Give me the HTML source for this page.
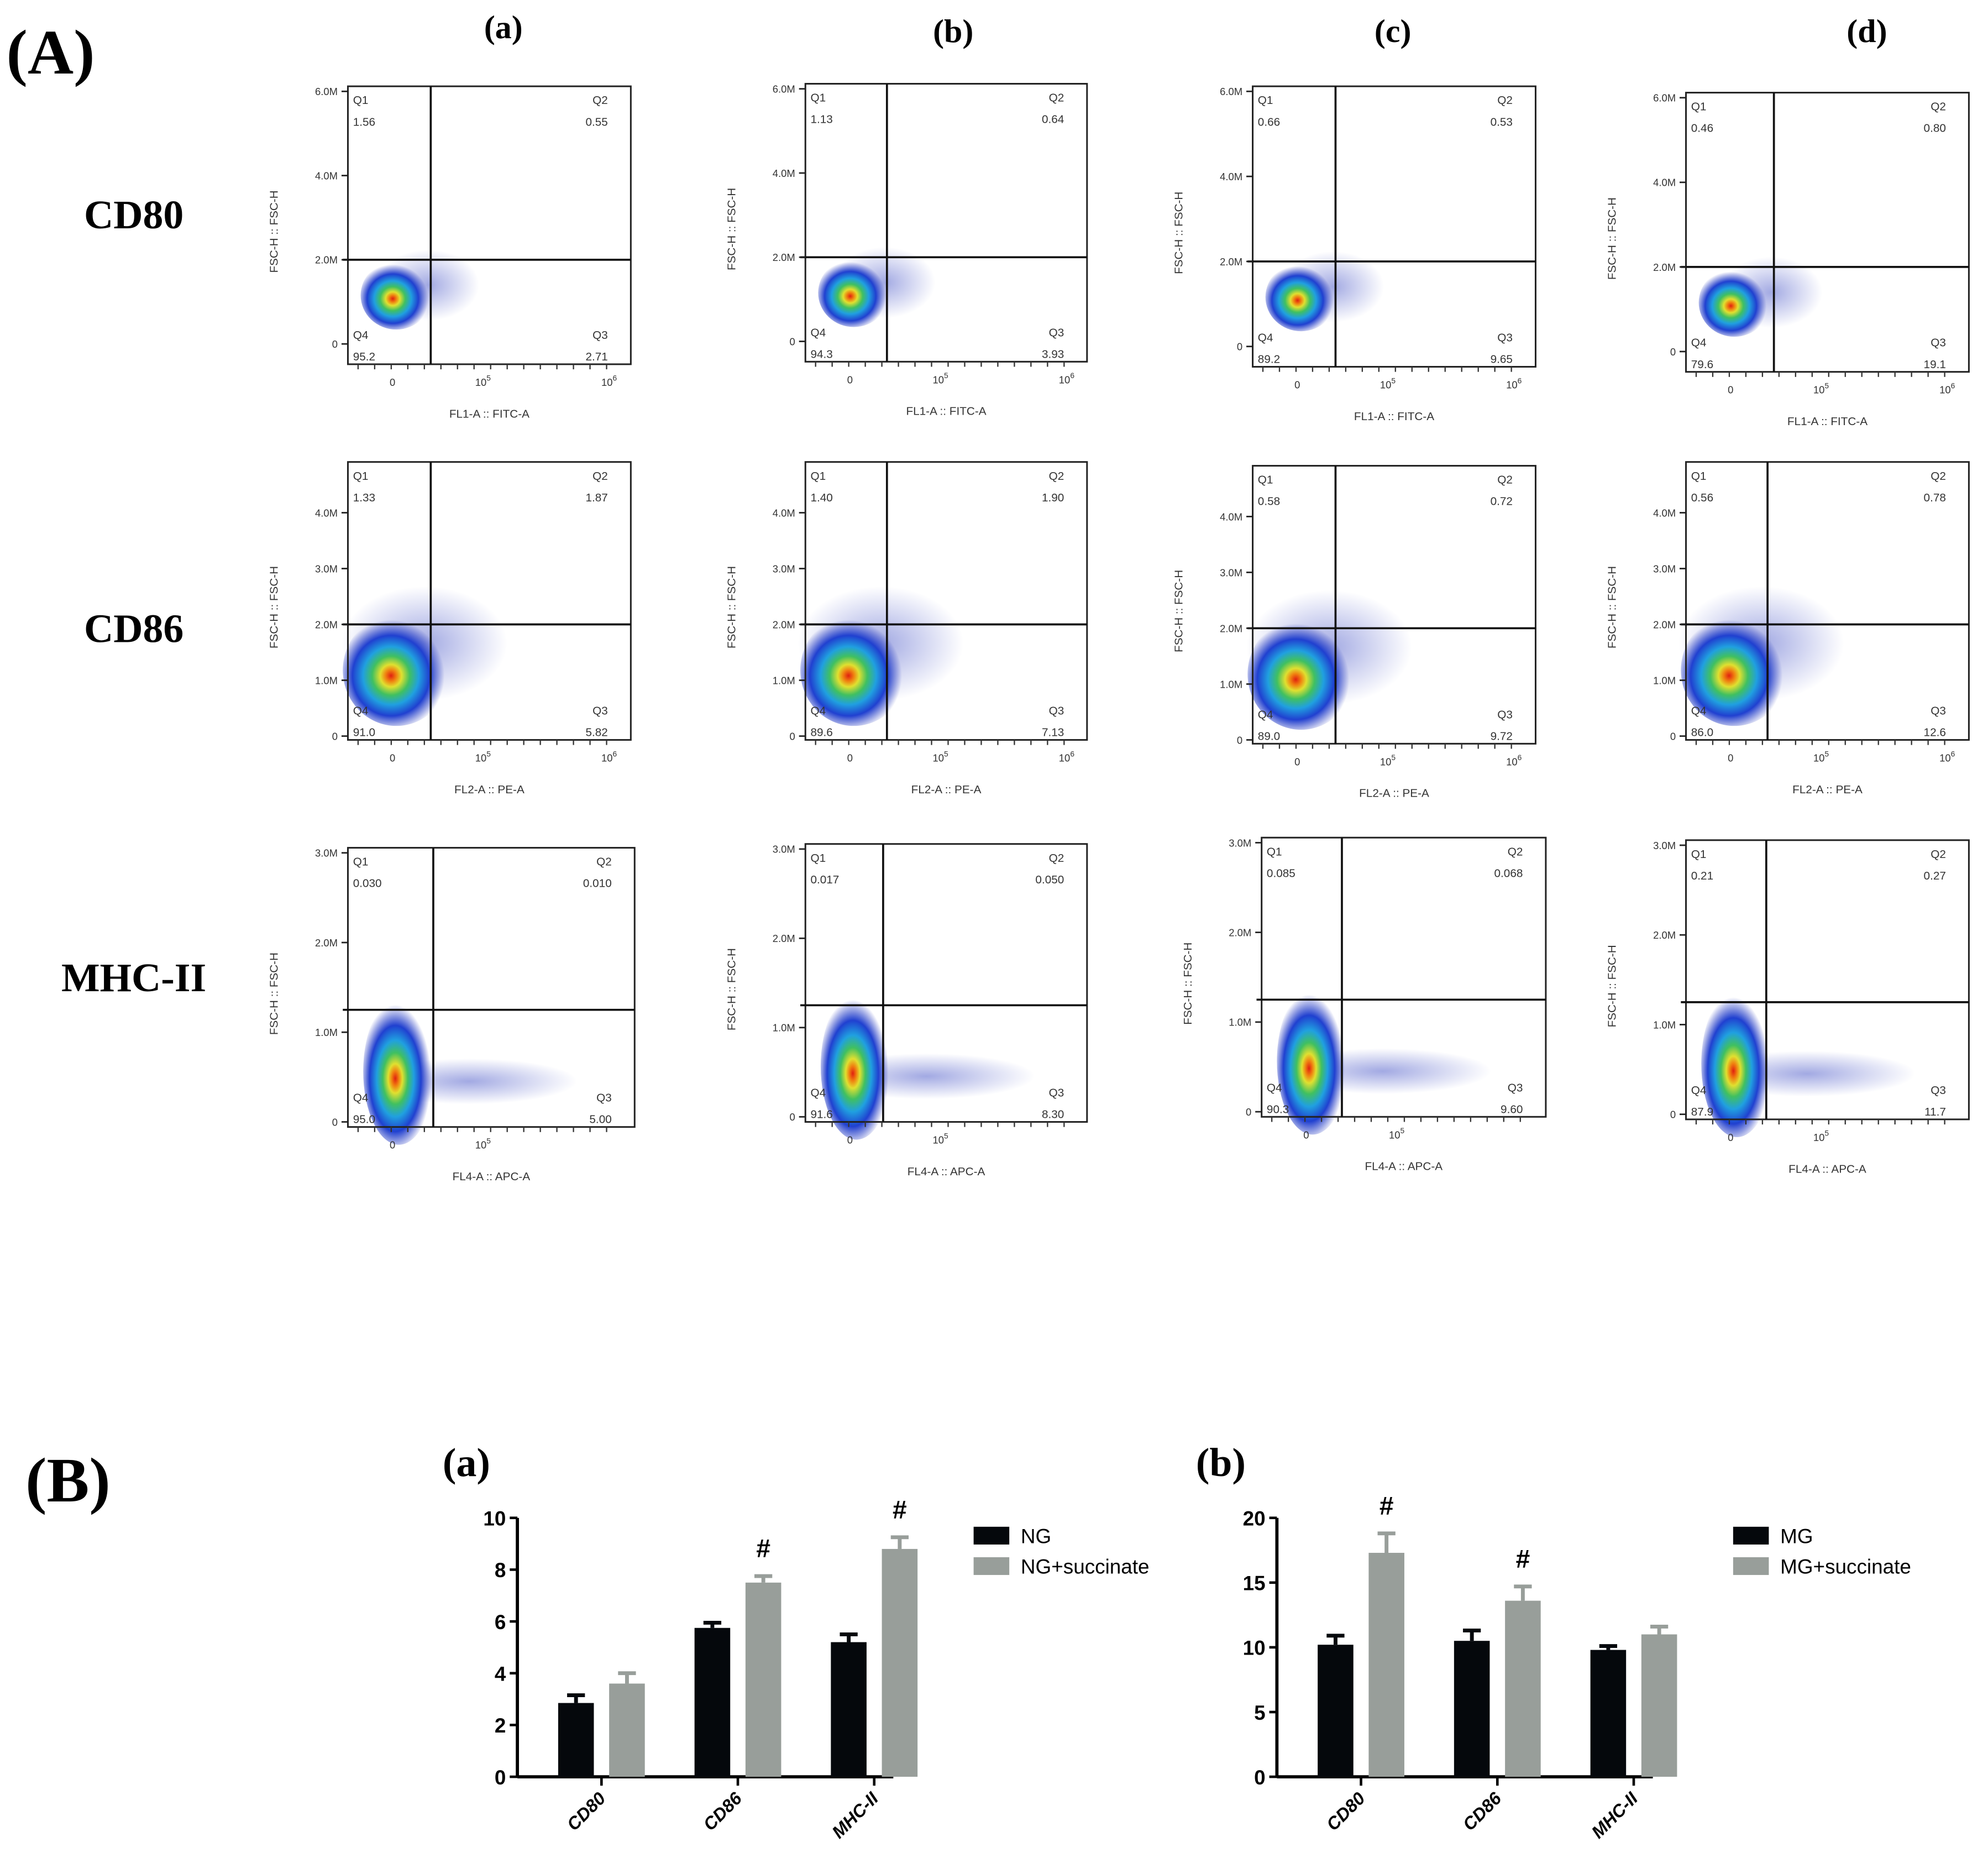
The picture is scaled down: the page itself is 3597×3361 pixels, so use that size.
<!DOCTYPE html>
<html><head><meta charset="utf-8"><style>html,body{margin:0;padding:0;background:#fff}svg{display:block}</style></head>
<body>
<svg id="fig" xmlns="http://www.w3.org/2000/svg" width="3597" height="3361" viewBox="0 0 1560 1464" preserveAspectRatio="none">
<defs>
<radialGradient id="heat" cx="0.45" cy="0.55" r="0.5">
<stop offset="0" stop-color="#e02010"/><stop offset="0.1" stop-color="#f08010"/><stop offset="0.2" stop-color="#e0e030"/>
<stop offset="0.35" stop-color="#40c060"/><stop offset="0.52" stop-color="#20a0e0"/><stop offset="0.72" stop-color="#2040d0"/>
<stop offset="1" stop-color="#3040c0" stop-opacity="0"/></radialGradient>
<radialGradient id="sparse" cx="0.5" cy="0.5" r="0.5">
<stop offset="0" stop-color="#3040c0" stop-opacity="0.45"/><stop offset="1" stop-color="#3040c0" stop-opacity="0"/></radialGradient>
</defs>
<g font-family="Liberation Serif, serif" font-weight="bold" fill="#000">
<text x="5" y="58" font-size="50">(A)</text>
<text x="20" y="1183" font-size="50">(B)</text>
<text x="395" y="30" font-size="26" text-anchor="middle">(a)</text>
<text x="748" y="33" font-size="26" text-anchor="middle">(b)</text>
<text x="1093" y="33" font-size="26" text-anchor="middle">(c)</text>
<text x="1465" y="33" font-size="26" text-anchor="middle">(d)</text>
<text x="105" y="180" font-size="32" text-anchor="middle">CD80</text>
<text x="105" y="506" font-size="32" text-anchor="middle">CD86</text>
<text x="105" y="781" font-size="32" text-anchor="middle">MHC-II</text>
<text x="366" y="1163" font-size="32" text-anchor="middle">(a)</text>
<text x="958" y="1163" font-size="32" text-anchor="middle">(b)</text>
</g>
<g id="flow"></g>
<g id="bars"></g>
</svg>
<script>
const NS="http://www.w3.org/2000/svg";
// flow panel data
const boxes=[[273,68,495,287],[632,66,853,285],[983,68,1205,289],[1323,73,1545,293],
[273,364,495,583],[632,364,853,583],[983,367,1205,586],[1323,364,1545,583],
[273,668,498,888],[632,665,853,884],[990,660,1213,880],[1323,662,1545,882]];
const gateX=[338,696,1048,1392,338,696,1048,1387,340,693,1053,1386];
const quadVals=[["1.56","0.55","2.71","95.2"],["1.13","0.64","3.93","94.3"],["0.66","0.53","9.65","89.2"],["0.46","0.80","19.1","79.6"],
["1.33","1.87","5.82","91.0"],["1.40","1.90","7.13","89.6"],["0.58","0.72","9.72","89.0"],["0.56","0.78","12.6","86.0"],
["0.030","0.010","5.00","95.0"],["0.017","0.050","8.30","91.6"],["0.085","0.068","9.60","90.3"],["0.21","0.27","11.7","87.9"]];
const rowTickVals=[[0,2,4,6],[0,1,2,3,4],[0,1,2,3]];
const rowTicks=[["0","2.0M","4.0M","6.0M"],["0","1.0M","2.0M","3.0M","4.0M"],["0","1.0M","2.0M","3.0M"]];
const rowGateY=[2.0,2.0,1.25];
const rowXLabel=["FL1-A :: FITC-A","FL2-A :: PE-A","FL4-A :: APC-A"];
const flow=document.getElementById('flow');
function mk(tag,attrs,parent,txt){const e=document.createElementNS(NS,tag);for(const k in attrs)e.setAttribute(k,attrs[k]);if(txt!==undefined)e.textContent=txt;(parent||flow).appendChild(e);return e;}
boxes.forEach((b,i)=>{
  const row=Math.floor(i/4);const [x0,y0,x1,y1]=b;
  const g=mk('g',{});
  
  
  let zero,top,maxv;
  if(row===0){zero=y1-16;top=y0+4;maxv=6;}
  else if(row===1){zero=y1-3;top=y0+40;maxv=4;}
  else{zero=y1-4;top=y0+4;maxv=3;}
  const yS=v=>zero-(zero-top)*v/maxv;
  const gx=gateX[i],gy=yS(rowGateY[row]);
  if(row===0){
    mk('ellipse',{cx:gx-2,cy:gy+20,rx:40,ry:28,fill:'url(#sparse)'},g);
    mk('ellipse',{cx:x0+38,cy:gy+28,rx:28,ry:27,fill:'url(#heat)'},g);
  }else if(row===1){
    mk('ellipse',{cx:gx-5,cy:gy+15,rx:65,ry:45,fill:'url(#sparse)'},g);
    mk('ellipse',{cx:x0+38,cy:gy+36,rx:42,ry:44,fill:'url(#heat)'},g);
  }else{
    mk('ellipse',{cx:x0+95,cy:y1-36,rx:85,ry:18,fill:'url(#sparse)'},g);
    mk('ellipse',{cx:x0+40,cy:y1-44,rx:28,ry:58,fill:'url(#heat)'},g);
  }
  mk('rect',{x:x0,y:y0,width:x1-x0,height:y1-y0,fill:'none',stroke:'#222','stroke-width':1.3},g);
  mk('line',{x1:gx,y1:y0,x2:gx,y2:y1,stroke:'#111','stroke-width':1.6},g);
  mk('line',{x1:x0-4,y1:gy,x2:x1,y2:gy,stroke:'#111','stroke-width':1.6},g);
  rowTicks[row].forEach((t,k)=>{const y=yS(rowTickVals[row][k]);
    mk('line',{x1:x0-5,y1:y,x2:x0,y2:y,stroke:'#222','stroke-width':1.2},g);
    mk('text',{x:x0-8,y:y+3,'font-size':8,'text-anchor':'end','font-family':'Liberation Sans, sans-serif',fill:'#333'},g,t);});
  mk('text',{x:x0+35,y:y1+17,'font-size':8,'text-anchor':'middle','font-family':'Liberation Sans, sans-serif',fill:'#333'},g,'0');
  const xt=mk('text',{x:x0+106,y:y1+17,'font-size':8,'text-anchor':'middle','font-family':'Liberation Sans, sans-serif',fill:'#333'},g,'10');
  mk('tspan',{'font-size':6,dy:-4},xt,'5');
  if(row<2){const xt2=mk('text',{x:x0+205,y:y1+17,'font-size':8,'text-anchor':'middle','font-family':'Liberation Sans, sans-serif',fill:'#333'},g,'10');mk('tspan',{'font-size':6,dy:-4},xt2,'6');}
  for(let k=0;k<16;k++){const tx=x0+8+k*13;mk('line',{x1:tx,y1:y1,x2:tx,y2:y1+4,stroke:'#333','stroke-width':1},g);}
  mk('text',{x:(x0+x1)/2,y:y1+42,'font-size':9,'text-anchor':'middle','font-family':'Liberation Sans, sans-serif',fill:'#333'},g,rowXLabel[row]);
  const yl=(y0+y1)/2+5;
  mk('text',{x:x0-55,y:yl,'font-size':9,'text-anchor':'middle','font-family':'Liberation Sans, sans-serif',fill:'#333',transform:`rotate(-90 ${x0-55} ${yl})`},g,'FSC-H :: FSC-H');
  const q=quadVals[i],fs={'font-size':9,'font-family':'Liberation Sans, sans-serif',fill:'#333'};
  mk('text',Object.assign({x:x0+4,y:y0+14},fs),g,'Q1');mk('text',Object.assign({x:x0+4,y:y0+31},fs),g,q[0]);
  mk('text',Object.assign({x:x1-18,y:y0+14,'text-anchor':'end'},fs),g,'Q2');mk('text',Object.assign({x:x1-18,y:y0+31,'text-anchor':'end'},fs),g,q[1]);
  mk('text',Object.assign({x:x0+4,y:y1-20},fs),g,'Q4');mk('text',Object.assign({x:x0+4,y:y1-3},fs),g,q[3]);
  mk('text',Object.assign({x:x1-18,y:y1-20,'text-anchor':'end'},fs),g,'Q3');mk('text',Object.assign({x:x1-18,y:y1-3,'text-anchor':'end'},fs),g,q[2]);
});

// bar chart data
const categories=["CD80","CD86","MHC-II"];
const ngVals=[2.85,5.75,5.2];const ngErr=[0.3,0.2,0.3];
const ngsVals=[3.6,7.5,8.8];const ngsErr=[0.4,0.25,0.45];
const mgVals=[10.2,10.5,9.8];const mgErr=[0.7,0.8,0.3];
const mgsVals=[17.3,13.6,11.0];const mgsErr=[1.5,1.1,0.6];
const ticksA=[0,2,4,6,8,10];const ticksB=[0,5,10,15,20];
const sigA=[false,true,true];const sigB=[true,true,false];
const barsG=document.getElementById('bars');
function chart(name,ax,maxv,ticks,s1,e1,s2,e2,sig,leg1,leg2){
  const g=mk('g',{},barsG);
  
  
  const y0=1400,yt=1196;const yS=v=>y0-(y0-yt)*v/maxv;
  const groupW=107,first=ax+46;
  mk('line',{x1:ax,y1:yt,x2:ax,y2:y0,stroke:'#000','stroke-width':2.5},g);
  mk('line',{x1:ax,y1:y0,x2:ax+295,y2:y0,stroke:'#000','stroke-width':2.5},g);
  ticks.forEach(t=>{const y=yS(t);mk('line',{x1:ax-6,y1:y,x2:ax,y2:y,stroke:'#000','stroke-width':2},g);
    mk('text',{x:ax-9,y:y+6,'font-size':16,'font-weight':'bold','text-anchor':'end','font-family':'Liberation Sans, sans-serif'},g,String(t));});
  categories.forEach((c,i)=>{
    const cx=first+i*groupW+20;
    [[s1,e1,'#05080c',-34],[s2,e2,'#989e9a',6]].forEach(([v,e,col,off])=>{
      const bx=cx+off,w=28,yv=yS(v[i]),ye=yS(v[i]+e[i]);
      mk('line',{x1:bx+w/2,y1:ye,x2:bx+w/2,y2:yv,stroke:col,'stroke-width':3},g);
      mk('line',{x1:bx+w/2-7,y1:ye,x2:bx+w/2+7,y2:ye,stroke:col,'stroke-width':3},g);
      const r=mk('rect',{x:bx,y:yv,width:w,height:y0-yv,fill:col},g);
      
      
    });
    mk('line',{x1:cx,y1:y0,x2:cx,y2:y0+7,stroke:'#000','stroke-width':2},g);
    if(sig[i]){mk('text',{x:cx+20,y:yS(s2[i]+e2[i])-15,'font-size':20,'font-weight':'bold','text-anchor':'middle','font-family':'Liberation Sans, sans-serif'},g,'#');}
    mk('text',{x:cx+4,y:y0+18,'font-size':14,'font-weight':'bold','font-style':'italic','text-anchor':'end','font-family':'Liberation Sans, sans-serif',transform:`rotate(-45 ${cx+4} ${y0+18})`},g,c);
  });
  const lx=ax+358;
  mk('rect',{x:lx,y:1203,width:28,height:14,fill:'#05080c'},g);
  mk('rect',{x:lx,y:1227,width:28,height:14,fill:'#989e9a'},g);
  mk('text',{x:lx+37,y:1216,'font-size':16,'font-family':'Liberation Sans, sans-serif'},g,leg1);
  mk('text',{x:lx+37,y:1240,'font-size':16,'font-family':'Liberation Sans, sans-serif'},g,leg2);
}
chart('bar-chart-ng',406,10,ticksA,ngVals,ngErr,ngsVals,ngsErr,sigA,'NG','NG+succinate');
chart('bar-chart-mg',1002,20,ticksB,mgVals,mgErr,mgsVals,mgsErr,sigB,'MG','MG+succinate');
</script>
</body></html>
